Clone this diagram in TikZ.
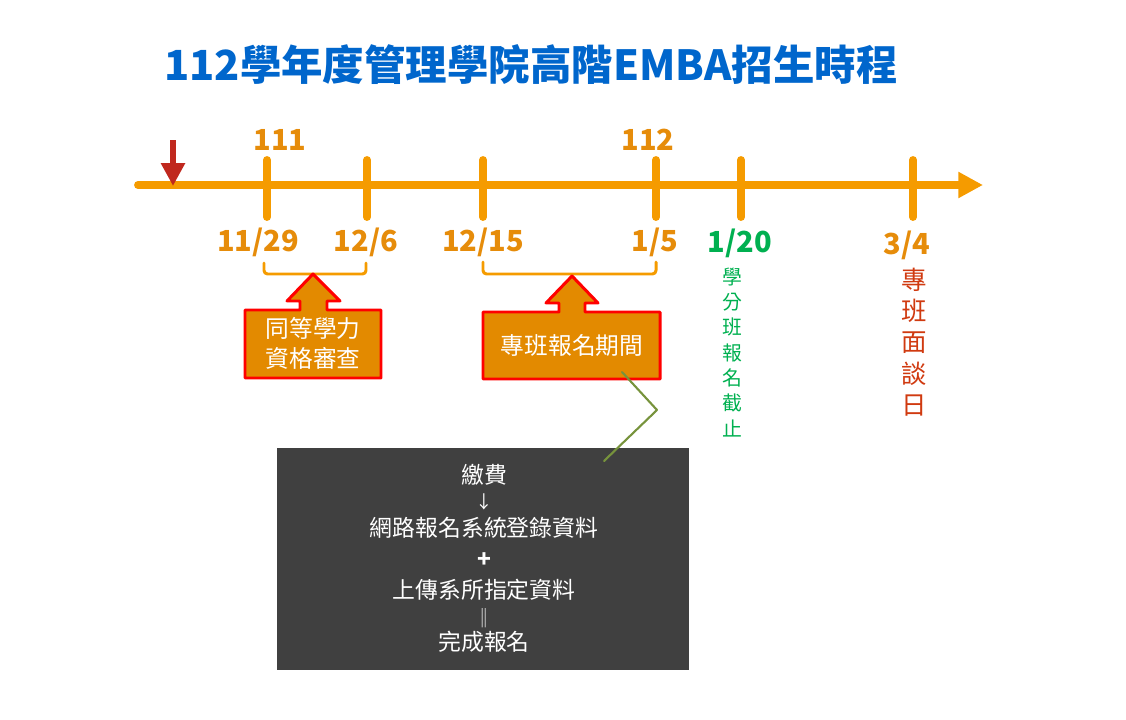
\documentclass[tikz,border=0pt]{standalone}
\usepackage{fontspec}
\setmainfont{Noto Sans CJK TC}
\usetikzlibrary{arrows.meta}

\definecolor{titleblue}{HTML}{0066CC}
\definecolor{axisorange}{HTML}{F59B00}
\definecolor{dateorange}{HTML}{E68C0A}
\definecolor{calloutfill}{HTML}{E38A00}
\definecolor{markred}{HTML}{C0281E}
\definecolor{greentext}{HTML}{00B050}
\definecolor{redtext}{HTML}{D03A10}
\definecolor{darkbox}{HTML}{404040}
\definecolor{olive}{HTML}{77933C}

\begin{document}
\begin{tikzpicture}[x=0.02cm,y=-0.02cm, line join=round, line cap=round,
	datelbl/.style={text=dateorange, font=\fontsize{16.5}{18}\selectfont\bfseries},
	tickmark/.style={axisorange, line width=4.5pt},
	brace/.style={axisorange, line width=1.7pt, rounded corners=2pt},
	callout/.style={draw=red, line width=1.7pt, fill=calloutfill},
	callouttxt/.style={text=white, font=\fontsize{13.5}{16}\selectfont, align=center},
	steptxt/.style={text=white, font=\fontsize{13}{15}\selectfont}]
	% --- Khung hình ---
	\def\axisy{185}
	\useasboundingbox (0,0) rectangle (1126,720);
	
	% --- Tiêu đề ---
	\node[text=titleblue, font=\fontsize{23.6}{28}\selectfont\bfseries] (title) at (531,65) {112學年度管理學院高階EMBA招生時程};
	
	% --- Trục thời gian ---
	\draw[axisorange, line width=4.5pt, -{Triangle[length=14pt,width=14pt]}] (138,\axisy) -- (983,\axisy);
	\foreach \x in {267,367,483,656,741,913}
		\draw[tickmark] (\x,160) -- (\x,217);
	\draw[markred, line width=3.4pt, line cap=butt, -{Triangle[length=13pt,width=13pt]}] (173,140) -- (173,186);
	
	% --- Năm và ngày ---
	\node[datelbl] (y111) at (280,140) {111};
	\node[datelbl] (y112) at (648,140) {112};
	\node[datelbl] (d1129) at (258,242) {11/29};
	\node[datelbl] (d1206) at (366,242) {12/6};
	\node[datelbl] (d1215) at (483,242) {12/15};
	\node[datelbl] (d0105) at (655,242) {1/5};
	\node[datelbl, text=greentext] (d0120) at (740,243) {1/20};
	\node[datelbl] (d0304) at (907,245) {3/4};
	
	% --- Ngoặc khoảng thời gian ---
	\draw[brace] (264,263) -- (264,274) -- (366,274) -- (366,263);
	\draw[brace] (483,262) -- (483,274) -- (656,274) -- (656,262);
	
	% --- Hộp mũi tên ---
	\draw[callout] (313,274) -- (340,301) -- (327,301) -- (327,310) -- (381,310) -- (381,378)
		-- (245,378) -- (245,310) -- (300,310) -- (300,301) -- (287,301) -- cycle;
	\node[callouttxt] (equiv) at (313,343) {同等學力\\[1pt]資格審查};
	\draw[callout] (572,276) -- (598,303) -- (585,303) -- (585,312) -- (660,312) -- (660,379)
		-- (483,379) -- (483,312) -- (559,312) -- (559,303) -- (546,303) -- cycle;
	\node[callouttxt] (apply) at (572,345) {專班報名期間};
	
	% --- Chữ dọc ---
	\foreach \ch [count=\i] in {學,分,班,報,名,截,止}
		\node[text=greentext, font=\fontsize{11.3}{13}\selectfont] (cut\i) at (732,{277+25.2*(\i-1)}) {\ch};
	\foreach \ch [count=\i] in {專,班,面,談,日}
		\node[text=redtext, font=\fontsize{14.5}{17}\selectfont] (talk\i) at (914,{280+31.3*(\i-1)}) {\ch};
	
	% --- Hộp các bước ---
	\node[fill=darkbox, minimum width=412*0.02cm, minimum height=222*0.02cm, inner sep=0pt] (steps) at (483,559) {};
	\foreach \yy/\txt [count=\i] in {475/繳費, 502/{\fontsize{10}{12}\selectfont ↓}, 528/網路報名系統登錄資料, 560/{\bfseries +}, 590/上傳系所指定資料, 618/{\fontsize{11}{12}\selectfont ‖}, 642/完成報名}
		\node[steptxt] (step\i) at (484,\yy) {\txt};
	
	% --- Đường nối ---
	\coordinate (lineA) at (622,372);
	\coordinate (lineB) at (657,410);
	\coordinate (lineC) at (604,461);
	\draw[olive, line width=1.2pt] (lineA) -- (lineB) -- (lineC);
\end{tikzpicture}
\end{document}
